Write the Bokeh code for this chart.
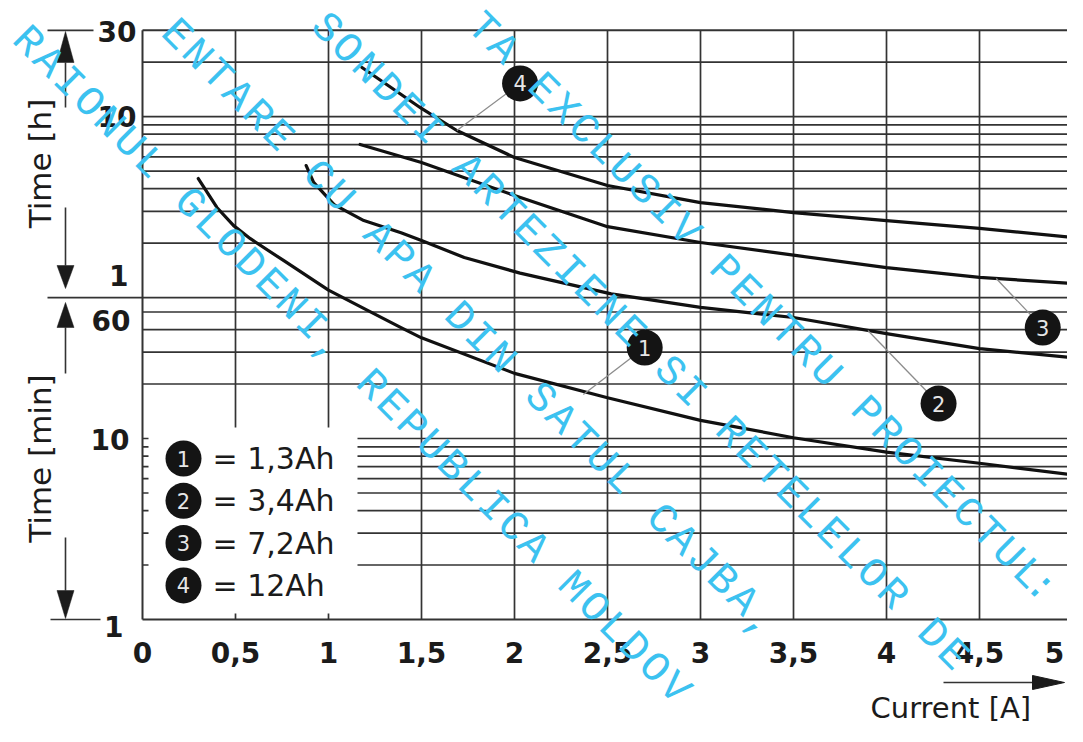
import math
from bokeh.plotting import figure
from bokeh.models import Range1d
from bokeh.core.properties import value
from bokeh.embed import file_html
from bokeh.resources import INLINE

# ---------------- data (current in A, time in minutes) ----------------
current_1 = [0.30, 0.40, 0.49, 0.58, 0.76, 1.00, 1.21, 1.39, 1.50, 2.00, 2.50, 3.00, 3.50, 4.00, 4.50, 5.00]
time_1 = [273, 189, 150, 127, 96, 66, 51, 41, 36, 22.9, 16.8, 12.6, 10.1, 8.4, 7.3, 6.3]

current_2 = [0.88, 0.92, 1.03, 1.19, 1.39, 1.50, 1.73, 2.03, 2.52, 3.00, 3.50, 4.00, 4.50, 5.00]
time_2 = [322, 260, 196, 160, 137, 124, 100, 82, 63, 53, 46.6, 38, 31.4, 28]

current_3 = [1.17, 1.50, 2.00, 2.50, 3.00, 3.50, 4.00, 4.50, 5.00]
time_3 = [421, 335, 220, 148, 121, 103, 88, 77.6, 71.8]

current_4 = [1.18, 1.50, 1.69, 2.00, 2.50, 3.00, 3.50, 4.00, 4.50, 5.00]
time_4 = [1121, 666, 503, 357, 250, 201, 177, 160, 145, 129]

curve_ids = ["1", "2", "3", "4"]
legend_labels = ["= 1,3Ah", "= 3,4Ah", "= 7,2Ah", "= 12Ah"]

callout_current = [2.70, 4.28, 4.84, 2.03]
callout_time = [31.8, 15.6, 41.0, 915.0]
leader_current = [2.37, 3.90, 4.59, 1.69]
leader_time = [17.5, 39.5, 76.5, 503.0]

x_ticks = [0, 0.5, 1, 1.5, 2, 2.5, 3, 3.5, 4, 4.5, 5]
x_tick_labels = ["0", "0,5", "1", "1,5", "2", "2,5", "3", "3,5", "4", "4,5", "5"]

grid_minutes_low = [2, 3, 4, 5, 6, 7, 8, 9, 10]
grid_minutes_mid = [20, 30, 40, 50, 60]
grid_minutes_high = [120, 180, 240, 300, 360, 420, 480, 540, 600, 1200]

y_tick_values = [1800, 600, 60, 60, 10, 1]
y_tick_labels = ["30", "10", "1", "60", "10", "1"]

watermark_lines = [
    "RAIONUL GLODENI, REPUBLICA MOLDOVA\"",
    "ALIMENTARE CU APA DIN SATUL CAJBA,",
    "SONDEI ARTEZIENE SI RETELELOR DE",
    "DATA EXCLUSIV PENTRU PROIECTUL:",
]

# ---------------- layout (reference pixel geometry) ----------------
X_MIN, X_MAX = 0, 5
T_MIN, T_MAX = 1, 1800
X0_PX, PX_PER_A = 142, 186
Y1_PX, PX_PER_DEC = 619, 181
W, H = 1067, 726


def px2x(px):
    return (px - X0_PX) / PX_PER_A


def py2y(py):
    return 10 ** ((Y1_PX - py) / PX_PER_DEC)


def y2py(y):
    return Y1_PX - PX_PER_DEC * math.log10(y)


p = figure(width=W, height=H,
           x_range=Range1d(px2x(0), px2x(W)),
           y_range=Range1d(py2y(H), py2y(0)),
           y_axis_type="log", x_axis_location=None, y_axis_location=None,
           min_border=0, toolbar_location=None, output_backend="svg",
           outline_line_color=None, background_fill_color="white",
           border_fill_color="white")
for g in p.grid:
    g.visible = False

GRID = "#333333"
GW = 1.7
INK = "#1b1b1b"

legend_right = px2x(357)
legend_top = py2y(427)

# horizontal grid lines
full_h = grid_minutes_mid + grid_minutes_high
p.segment(x0=[X_MIN] * len(full_h), x1=[X_MAX] * len(full_h), y0=full_h, y1=full_h,
          line_color=GRID, line_width=GW)
p.segment(x0=[legend_right] * len(grid_minutes_low), x1=[X_MAX] * len(grid_minutes_low),
          y0=grid_minutes_low, y1=grid_minutes_low, line_color=GRID, line_width=GW)
p.segment(x0=[X_MIN] * len(grid_minutes_low), x1=[px2x(148)] * len(grid_minutes_low),
          y0=grid_minutes_low, y1=grid_minutes_low, line_color=GRID, line_width=GW)

# vertical grid lines
inner_v = [v for v in x_ticks if X_MIN < v < X_MAX]
v_full = [v for v in inner_v if v > legend_right]
v_leg = [v for v in inner_v if v <= legend_right]
p.segment(x0=v_full, x1=v_full, y0=[T_MIN] * len(v_full), y1=[T_MAX] * len(v_full),
          line_color=GRID, line_width=GW)
p.segment(x0=v_leg, x1=v_leg, y0=[legend_top] * len(v_leg), y1=[T_MAX] * len(v_leg),
          line_color=GRID, line_width=GW)
p.segment(x0=v_leg, x1=v_leg, y0=[T_MIN] * len(v_leg), y1=[py2y(613)] * len(v_leg),
          line_color=GRID, line_width=GW)

# frame
p.segment(x0=[X_MIN, X_MAX, X_MIN, X_MIN], x1=[X_MIN, X_MAX, X_MAX, X_MAX],
          y0=[T_MIN, T_MIN, T_MIN, T_MAX], y1=[T_MAX, T_MAX, T_MIN, T_MAX],
          line_color=GRID, line_width=2.0)

# extension lines on the left
p.segment(x0=[px2x(47), px2x(47), px2x(50)], x1=[px2x(93), X_MIN, px2x(100)],
          y0=[T_MAX, 60, T_MIN], y1=[T_MAX, 60, T_MIN], line_color=GRID, line_width=GW)

# dimension arrows on the left
ax = px2x(65)
seg_px = [(62, 107), (207, 265), (327, 373), (537, 590)]
p.segment(x0=[ax] * 4, x1=[ax] * 4, y0=[py2y(a) for a, b in seg_px], y1=[py2y(b) for a, b in seg_px],
          line_color=GRID, line_width=1.6)
tri_px = [(31, 62), (288, 265), (302, 327), (618, 590)]  # (tip, base)
xs, ys = [], []
for tip, base in tri_px:
    xs.append([px2x(65 - 8.5), px2x(65 + 8.5), ax])
    ys.append([py2y(base), py2y(base), py2y(tip)])
p.patches(xs=xs, ys=ys, fill_color=INK, line_color=INK, line_width=0.5)

# axis titles
p.text(x=[px2x(39)], y=[py2y(163)], text=["Time [h]"], angle=math.pi / 2,
       text_font=value("DejaVu Sans"), text_font_size="31px", text_color=INK,
       text_align="center", text_baseline="middle")
p.text(x=[px2x(39)], y=[py2y(458)], text=["Time [min]"], angle=math.pi / 2,
       text_font=value("DejaVu Sans"), text_font_size="31px", text_color=INK,
       text_align="center", text_baseline="middle")
p.text(x=[px2x(870)], y=[py2y(707)], text=["Current [A]"],
       text_font=value("DejaVu Sans"), text_font_size="29px", text_color=INK,
       text_align="left", text_baseline="middle")
p.segment(x0=[px2x(943)], x1=[px2x(1035)], y0=[py2y(682)], y1=[py2y(682)],
          line_color=GRID, line_width=1.6)
p.patches(xs=[[px2x(1032), px2x(1032), px2x(1064)]],
          ys=[[py2y(675), py2y(689), py2y(682)]], fill_color=INK, line_color=INK)

# tick labels (last one nudged inside the canvas)
x_label_px = [min(142 + 186 * v, 1054) for v in x_ticks]
p.text(x=[px2x(v) for v in x_label_px], y=[py2y(652)] * len(x_ticks), text=x_tick_labels,
       text_font=value("DejaVu Sans"), text_font_style="bold", text_font_size="28px",
       text_color=INK, text_align="center", text_baseline="middle")
y_label_dy = [1, 0, -22, 23, 1, 7]        # px shift of label centre from its line
y_label_right = [136, 136, 128, 130, 129, 123]
for v, lab, dy, r in zip(y_tick_values, y_tick_labels, y_label_dy, y_label_right):
    p.text(x=[px2x(r)], y=[py2y(y2py(v) + dy)], text=[lab],
           text_font=value("DejaVu Sans"), text_font_style="bold", text_font_size="28px",
           text_color=INK, text_align="right", text_baseline="middle")

# curves
for cx, ty in [(current_1, time_1), (current_2, time_2), (current_3, time_3), (current_4, time_4)]:
    p.line(cx, ty, line_color="#111111", line_width=3.2, line_join="round", line_cap="round")

# callouts
p.segment(x0=callout_current, y0=callout_time, x1=leader_current, y1=leader_time,
          line_color="#8c8c8c", line_width=1.3)
p.scatter(callout_current, callout_time, size=36, fill_color="#141414", line_color=None)
p.text(x=callout_current, y=callout_time, text=curve_ids, text_font=value("DejaVu Sans"),
       text_font_size="21px", text_color="#e6e6e6", text_align="center", text_baseline="middle")

# legend
leg_rows_px = [458 + 42.3 * i for i in range(len(legend_labels))]
leg_y = [py2y(r) for r in leg_rows_px]
p.scatter([px2x(183)] * len(leg_y), leg_y, size=36, fill_color="#141414", line_color=None)
p.text(x=[px2x(183)] * len(leg_y), y=leg_y, text=curve_ids, text_font=value("DejaVu Sans"),
       text_font_size="21px", text_color="#e6e6e6", text_align="center", text_baseline="middle")
p.text(x=[px2x(212)] * len(leg_y), y=leg_y, text=legend_labels, text_font=value("DejaVu Sans"),
       text_font_size="30px", text_color=INK, text_align="left", text_baseline="middle")

# watermark (diagonal, per character)
wm_start_px = [(27, 42), (95, -46), (325.6, 28.6), (441, -12)]
step = 20.2
m_left, m_right, m_top, m_bottom = 26, 27, 26, 20
wx, wy, wt = [], [], []
for line, (sx, sy) in zip(watermark_lines, wm_start_px):
    for i, ch in enumerate(line):
        if ch == " ":
            continue
        cx, cy = sx + i * step, sy + i * step
        over = cx - (W - m_right)
        if 0 < over < 12:          # slide a character just past the right edge back along its line
            cx, cy = cx - over, cy - over
        if m_left <= cx <= W - m_right and m_top <= cy <= H - m_bottom:
            wx.append(px2x(cx))
            wy.append(py2y(cy))
            wt.append(ch)
p.text(x=wx, y=wy, text=wt, angle=-math.pi / 4, text_font=value("Liberation Mono"),
       text_font_size="42px", text_color="#3cc2f0", text_align="center", text_baseline="middle")

open("out.html", "w").write(file_html(p, INLINE))
